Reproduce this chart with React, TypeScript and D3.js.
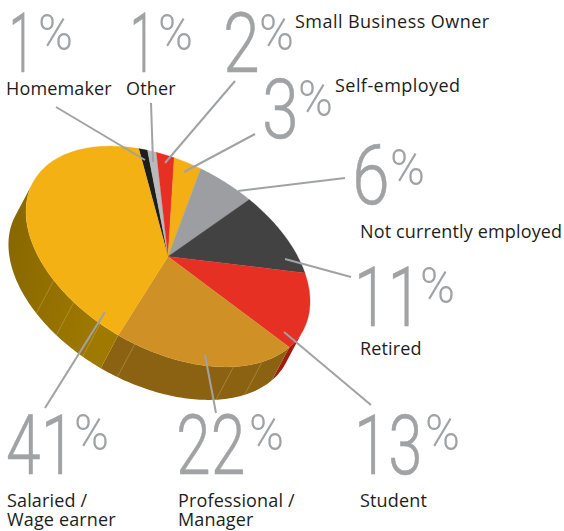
import React from "react";
import * as d3 from "d3";

const categories = ["Homemaker","Other","Small Business Owner","Self-employed","Not currently employed","Retired","Student","Professional / Manager","Salaried / Wage earner"];
const values = [1,1,2,3,6,11,13,22,41];
const topColors = ["#1d1d1b","#b9babc","#e63024","#f3af14","#9c9ea1","#424242","#e63024","#cf9126","#f3b113"];
const wallColors = ["#1d1d1b","#b9babc","#9e1a10","#8a6a00","#77787a","#2a2a2a","#a31a10","#8b6212","url(#wallGold)"];
// wall facet seams, in degrees round the pie
const seamAngles = [215,203,190,175,134,120];

const W = 564, H = 531;
const CX = 168, CY = 256.5, RX = 154, RY = 93, TILT = 29 * Math.PI / 180;
const DX = -17.5, DY = 33;
const START = -30.4 * Math.PI / 180;

// angle a is clockwise from the "top" of the unrotated disc
function project(a: number, off = 0): [number, number] {
  const x = RX * Math.sin(a), y = -RY * Math.cos(a);
  return [
    CX + x * Math.cos(TILT) - y * Math.sin(TILT) + DX * off,
    CY + x * Math.sin(TILT) + y * Math.cos(TILT) + DY * off,
  ];
}
const ox = (DX * Math.cos(TILT) + DY * Math.sin(TILT)) / RX;
const oy = (-DX * Math.sin(TILT) + DY * Math.cos(TILT)) / RY;
const wallMid = Math.atan2(ox, -oy);
const wallFrom = wallMid - Math.PI / 2, wallTo = wallMid + Math.PI / 2;

const line = d3.line();
function arcPts(a0: number, a1: number, off: number) {
  const n = Math.max(2, Math.ceil(Math.abs(a1 - a0) / 0.02));
  return d3.range(n + 1).map(i => project(a0 + (a1 - a0) * i / n, off));
}

const arcs = d3.pie<number>().sort(null).startAngle(START).endAngle(START + 2 * Math.PI)(values);

function wall(a0: number, a1: number) {
  for (const k of [-2, 0, 2]) {
    const lo = Math.max(a0 + k * Math.PI, wallFrom), hi = Math.min(a1 + k * Math.PI, wallTo);
    if (hi > lo) return line([...arcPts(lo, hi, 0), ...arcPts(hi, lo, 1)]) + "Z";
  }
  return null;
}

const leaders = [
  [56,107,145,160],[151,103,153,162],[235,81,165,163],[255,134,184,172],[345,178,238,191],
  [285,259,351,277],[284,332,371,405],[205,355,216,413],[105,312,45,408],
];
// text, x, baseline, fitted width
const bigDigits: [string,number,number,number][] = [
  ["1",9,72,25],["1",130,72,25],["2",223,72,37],["3",262,138,37],["6",352,204,38],
  ["11",354,326,68],["13",354,474,69],["22",176,474,70],["41",6,474,70],
];
const bigPct: [number,number][] = [[38,50],[158,50],[259,50],[298,116],[390,185],[420,303],[425,450],[249,450],[74,450]];
const labels: [string,number,number,number][] = [
  ["Homemaker",6,95,0.15],["Other",126,95,0.15],["Small Business Owner",295,28,0.45],["Self-employed",335,92,0.45],
  ["Not currently employed",360,238,0.15],["Retired",360,355,0.15],["Student",360,507,0.15],
  ["Professional /",178,507,0.15],["Manager",178,526,0.15],["Salaried /",7,507,0.15],["Wage earner",7,526,0.15],
];

function Fitted({ t, x, y, size, w, base, sw }: { t: string; x: number; y: number; size: number; w: number; base: number; sw: number }) {
  return (
    <text transform={`translate(${x},${y}) scale(${w / base},1)`} fontFamily="Roboto" fontWeight={300} fontSize={size} fill="#a0a2a4" stroke="#a0a2a4" strokeWidth={sw}>{t}</text>
  );
}

export default function App() {
  return (
    <svg width={W} height={H} style={{ position: "absolute", left: 0, top: 0 }}>
      <defs>
        <linearGradient id="wallGold" x1="0" y1="0" x2="1" y2="0.3">
          <stop offset="0" stopColor="#866600" />
          <stop offset="1" stopColor="#a07a00" />
        </linearGradient>
      </defs>
      {arcs.map((d, i) => {
        const p = wall(d.startAngle, d.endAngle);
        return p ? <path key={i} d={p} fill={wallColors[i]} /> : null;
      })}
      {seamAngles.map((s, i) => {
        const a = s * Math.PI / 180;
        return <path key={i} d={line([project(a, 0), project(a, 1)])!} stroke="#d8c48a" strokeOpacity={0.55} strokeWidth={0.6} fill="none" />;
      })}
      {arcs.map((d, i) => (
        <path key={i} d={line([[CX, CY], ...arcPts(d.startAngle, d.endAngle, 0)])! + "Z"} fill={topColors[i]} stroke={topColors[i]} strokeWidth={0.3} />
      ))}
      {leaders.map((l, i) => (
        <line key={i} x1={l[0]} y1={l[1]} x2={l[2]} y2={l[3]} stroke="#a0a2a4" strokeWidth={2} />
      ))}
      {bigDigits.map((b, i) => (
        <Fitted key={i} t={b[0]} x={b[1]} y={b[2]} size={84} w={b[3]} base={b[0].length * 47} sw={0.5} />
      ))}
      {bigPct.map((p, i) => (
        <Fitted key={i} t="%" x={p[0]} y={p[1]} size={50} w={34} base={36} sw={0} />
      ))}
      {labels.map((l, i) => (
        <text key={i} x={l[1]} y={l[2]} fontFamily="'Open Sans'" fontSize={18} letterSpacing={l[3]} fill="#1d1d1b">{l[0]}</text>
      ))}
    </svg>
  );
}
